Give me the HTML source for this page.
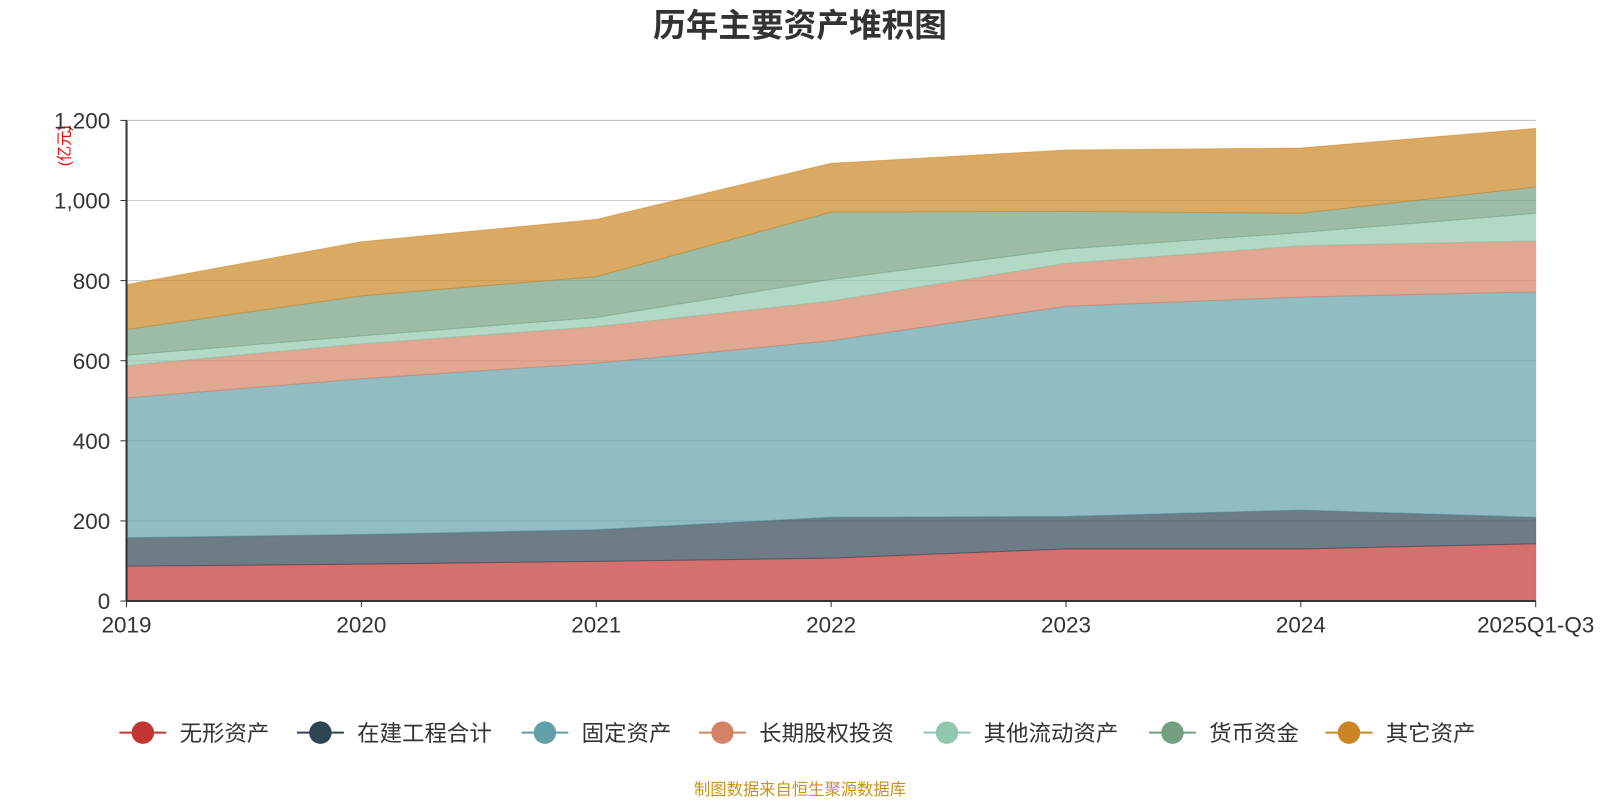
<!DOCTYPE html>
<html><head><meta charset="utf-8"><style>
body{margin:0;background:#fff;font-family:"Liberation Sans","Noto Sans CJK SC",sans-serif;}
svg text{font-family:"Liberation Sans","Noto Sans CJK SC",sans-serif;}
</style></head><body>
<svg id="chart" width="1600" height="800" viewBox="0 0 1568 784" xmlns="http://www.w3.org/2000/svg">
<text x="784" y="36" text-anchor="middle" font-size="32" font-weight="bold" fill="#333">历年主要资产堆积图</text>
<text transform="translate(68,143) rotate(-90)" text-anchor="middle" font-size="15" fill="#f00">(亿元)</text>
<g id="grid"></g><g id="areas"></g><g id="axes"></g><g id="legend"></g>
<text x="784" y="779" text-anchor="middle" font-size="16" fill="#c8921e">制图数据来自恒生聚源数据库</text>
</svg>
<script>
const categories=["2019","2020","2021","2022","2023","2024","2025Q1-Q3"];
const seriesNames=["无形资产","在建工程合计","固定资产","长期股权投资","其他流动资产","货币资金","其它资产"];
const intangible=[87,92,99,107,130,130,143];
const construction=[71,74,79,102,81,97,66];
const fixedAssets=[349,389,416,441,525,532,563];
const equityInvest=[81,87,91,99,107,128,127];
const otherCurrent=[26,20,23,54,36,33,69];
const cash=[64,100,102,168,94,48,66];
const otherAssets=[112,135,143,122,153,163,146];
const yTicks=[0,200,400,600,800,1000,1200];
const yTickLabels=["0","200","400","600","800","1,000","1,200"];
const colors=["#c23531","#2f4554","#61a0a8","#d48265","#91c7ae","#749f83","#ca8622"];
const series=[intangible,construction,fixedAssets,equityInvest,otherCurrent,cash,otherAssets];
const NS="http://www.w3.org/2000/svg";
const x0=124,x1=1505,y0=589,y1=118,ymax=1200;
const xs=i=>x0+(x1-x0)*i/(categories.length-1);
const ys=v=>y0-(y0-y1)*v/ymax;
function mk(t,a,p){const e=document.createElementNS(NS,t);for(const k in a)e.setAttribute(k,a[k]);p.appendChild(e);return e;}
const grid=document.getElementById('grid'),areas=document.getElementById('areas'),axes=document.getElementById('axes'),legend=document.getElementById('legend');
yTicks.forEach((v,i)=>{
 const l=mk('line',{x1:x0,x2:x1,y1:ys(v),y2:ys(v),stroke:i==yTicks.length-1?'#bbb':'#ccc','stroke-width':1},grid);
 
 
 const t=mk('text',{x:108,y:ys(v)+8,'text-anchor':'end','font-size':22,fill:'#333'},axes);t.textContent=yTickLabels[i];
 
 
 mk('line',{x1:118,x2:124,y1:ys(v),y2:ys(v),stroke:'#333'},axes);
});
let base=categories.map(()=>0);
series.forEach((s,si)=>{
 const top=base.map((b,i)=>b+s[i]);
 let d='M'+top.map((v,i)=>xs(i)+','+ys(v)).join(' L');
 for(let i=categories.length-1;i>=0;i--)d+=' L'+xs(i)+','+ys(base[i]);
 const p=mk('path',{d:d+'Z',fill:colors[si],'fill-opacity':0.7,stroke:colors[si],'stroke-opacity':0.5,'stroke-width':1},areas);
 
 
 base=top;
});
mk('line',{x1:x0,x2:x0,y1:y1,y2:y0,stroke:'#333','stroke-width':2},axes);
mk('line',{x1:x0,x2:x1,y1:y0,y2:y0,stroke:'#333','stroke-width':2},axes);
categories.forEach((c,i)=>{
 mk('line',{x1:xs(i),x2:xs(i),y1:y0,y2:y0+6,stroke:'#333'},axes);
 const t=mk('text',{x:xs(i),y:620,'text-anchor':'middle','font-size':22,fill:'#333'},axes);t.textContent=c;
 
 
});
const lx=[140,314,534,708,928,1149,1322];
seriesNames.forEach((n,i)=>{
 const g=mk('g',{},legend);
 
 
 mk('line',{x1:lx[i]-23,x2:lx[i]+23,y1:718,y2:718,stroke:colors[i],'stroke-width':2},g);
 mk('circle',{cx:lx[i],cy:718,r:11,fill:colors[i]},g);
 const t=mk('text',{x:lx[i]+36,y:726,'font-size':22,fill:'#333'},g);t.textContent=n;
});
</script>
</body></html>
